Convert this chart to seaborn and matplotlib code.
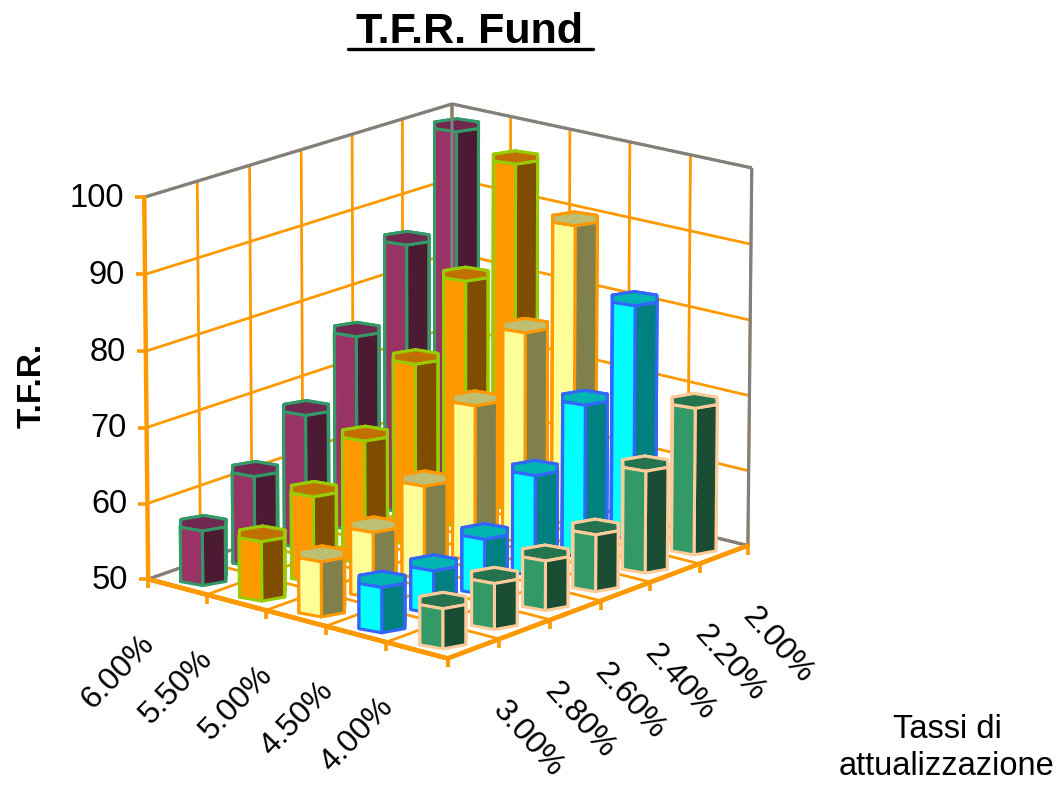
import numpy as np
import matplotlib
matplotlib.use("Agg")
import matplotlib.pyplot as plt
from matplotlib.lines import Line2D
from matplotlib.path import Path
from mpl_toolkits.mplot3d import proj3d
from mpl_toolkits.mplot3d.art3d import Poly3DCollection
import seaborn as sns

series = ["6.00%", "5.50%", "5.00%", "4.50%", "4.00%"]
categories = ["3.00%", "2.80%", "2.60%", "2.40%", "2.20%", "2.00%"]
v_600 = [57.2, 62, 67.8, 76, 86, 99]
v_550 = [57.8, 61.3, 66.3, 74.2, 83, 96.4]
v_500 = [57.2, 58.6, 62.3, 70.6, 78, 90]
v_450 = [55.9, 55.6, 57.3, 63.3, 70.3, 81.2]
v_400 = [55.2, 56, 56.5, 57.5, 63.5, 69.5]
values = [v_600, v_550, v_500, v_450, v_400]
light = ["#993366", "#FF9900", "#FFFF99", "#00FFFF", "#339966"]
dark = ["#4D1A33", "#804D00", "#80804D", "#008080", "#1A4D33"]
top = ["#702850", "#C07000", "#BFBF73", "#00B4B4", "#267350"]
edge = ["#339966", "#99CC00", "#FF9900", "#3366FF", "#FFCC99"]
z_ticks = [50, 60, 70, 80, 90, 100]
ORANGE = "#FF9900"
GRAY = "#808080"
AZIM = -50

sns.set_theme(style="white", rc={"font.family": ["Liberation Sans", "DejaVu Sans"]})
fig = plt.figure(figsize=(10.63, 8.03), dpi=100)
ax = fig.add_axes([-0.087, 0.02, 1.0, 1.0], projection="3d", computed_zorder=False)
ax.patch.set_alpha(0)
ax.set_proj_type("persp", focal_length=2.0)
ax.view_init(elev=16.5, azim=AZIM)
ax.set_box_aspect((392, 474, 397), zoom=0.883)

n_s, n_c = len(series), len(categories)
x0, x1 = -0.5, n_s - 0.5
y0, y1 = -0.5, n_c - 0.5
ax.set_xlim(x0, x1)
ax.set_ylim(y0, y1)
ax.set_zlim(50, 100)
ax.set_xticks(np.arange(n_s + 1) - 0.5)
ax.set_yticks(np.arange(n_c + 1) - 0.5)
ax.set_zticks(z_ticks)
ax.set_xticklabels([])
ax.set_yticklabels([])
ax.set_zticklabels([])

for a in (ax.xaxis, ax.yaxis, ax.zaxis):
    a.pane.set_facecolor("white")
    a.pane.set_edgecolor("none")
    a.line.set_color(ORANGE)
    a.line.set_linewidth(3.2)
    a._axinfo["grid"].update(color=ORANGE, linewidth=2.0, linestyle="-")
    a._axinfo["tick"].update(inward_factor=0.0, outward_factor=0.0,
                             linewidth={True: 0.0, False: 0.0})
ax.zaxis._axinfo["juggled"] = (1, 0, 2)

# gray frame of the back walls
for xs_, ys_, zs_ in [([x0, x0], [y0, y1], [100, 100]),
                      ([x0, x1], [y1, y1], [100, 100]),
                      ([x1, x1], [y1, y1], [50, 100]),
                      ([x0, x0], [y1, y1], [50, 100]),
                      ([x0, x0], [y0, y1], [50, 50]),
                      ([x0, x1], [y1, y1], [50, 50])]:
    ax.plot(xs_, ys_, zs_, color=GRAY, lw=2.3, zorder=1, solid_capstyle="butt")
ax.plot([x0, x0], [y0, y0], [50, 100], color=ORANGE, lw=3.2, zorder=2)
ax.plot([x0, x1], [y0, y0], [50, 50], color=ORANGE, lw=3.2, zorder=2)
ax.plot([x1, x1], [y0, y1], [50, 50], color=ORANGE, lw=3.2, zorder=2)

# tick stubs
stub_left = Path([(-1, 0), (0, 0)])
stub_down = Path([(0, 0), (0, -1)])
ax.plot([x0] * len(z_ticks), [y0] * len(z_ticks), z_ticks, ls="none", marker=stub_left,
        ms=13, mew=2.6, mec=ORANGE, zorder=2)
ax.plot(np.arange(n_s + 1) - 0.5, [y0] * (n_s + 1), [50] * (n_s + 1), ls="none", marker=stub_down,
        ms=13, mew=2.6, mec=ORANGE, zorder=2)
ax.plot([x1] * (n_c + 1), np.arange(n_c + 1) - 0.5, [50] * (n_c + 1), ls="none", marker=stub_down,
        ms=13, mew=2.6, mec=ORANGE, zorder=2)

# hexagonal prisms, one vertex toward the viewer
rx, ry = 0.33, 0.33
angles = np.radians(AZIM + np.arange(6) * 60)
for i in range(n_s):
    for j in range(n_c):
        h = values[i][j]
        xs = i + rx * np.cos(angles)
        ys = j + ry * np.sin(angles)
        faces, cols = [], []
        for k in range(6):
            m = (k + 1) % 6
            faces.append([(xs[k], ys[k], 50), (xs[m], ys[m], 50),
                          (xs[m], ys[m], h), (xs[k], ys[k], h)])
            cols.append(dark[i] if k in (0, 1, 2) else light[i])
        faces.append([(xs[k], ys[k], h) for k in range(6)])
        cols.append(top[i])
        pc = Poly3DCollection(faces, facecolors=cols, edgecolors=edge[i],
                              linewidths=2.2, zsort="average", shade=False)
        pc.set_zorder(5 + i * 10 - j)
        ax.add_collection3d(pc)

M = ax.get_proj()
def label(x, y, z, s, dx, dy, **kw):
    px, py, _ = proj3d.proj_transform(x, y, z, M)
    ax.annotate(s, xy=(px, py), xycoords="data", xytext=(dx, dy), textcoords="offset pixels",
                color="black", annotation_clip=False, zorder=200, **kw)

for z in z_ticks:
    label(x0, y0, z, str(z), -20, 0, ha="right", va="center", fontsize=23.5)
for i, s in enumerate(series):
    label(i, y0, 50, s, -28, -51, rotation=46, ha="right", va="center",
          rotation_mode="anchor", fontsize=23)
for j, c in enumerate(categories):
    label(x1, j, 50, c, 24, -56, rotation=-48, ha="left", va="center",
          rotation_mode="anchor", fontsize=23)

fig.text(470 / 1063, 1 - 32 / 803, "T.F.R. Fund", ha="center", va="center",
         fontsize=31, fontweight="bold", color="black")
fig.add_artist(Line2D([348 / 1063, 593 / 1063], [1 - 50 / 803] * 2, color="black", lw=2.4))
fig.text(32 / 1063, 1 - 385 / 803, "T.F.R.", rotation=90, ha="center", va="center",
         fontsize=24, fontweight="bold", color="black")
fig.text(947 / 1063, 1 - 748 / 803, "Tassi di\nattualizzazione", ha="center", va="center",
         fontsize=23.5, color="black", linespacing=1.25)

fig.savefig("out.png", dpi=100)
